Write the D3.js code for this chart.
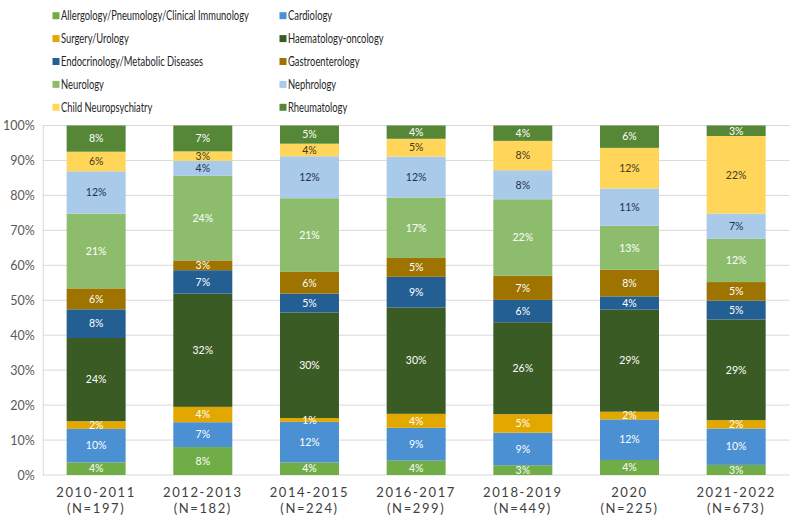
<!DOCTYPE html>
<html>
<head>
<meta charset="utf-8">
<script src="https://cdn.jsdelivr.net/npm/d3@7"></script>
<style>
  body { margin: 0; background: #fff; }
  svg { display: block; font-family: Lato, "Open Sans", sans-serif; }
</style>
</head>
<body>
<div id="viz"></div>
<script>
var width = 794,
    height = 519;

// Periods on the x axis (two lines each)
var periods = ["2010-2011", "2012-2013", "2014-2015", "2016-2017", "2018-2019", "2020", "2021-2022"];
var counts = ["(N=197)", "(N=182)", "(N=224)", "(N=299)", "(N=449)", "(N=225)", "(N=673)"];

// Specialities, bottom to top of the stack
var specialities = ["Allergology/Pneumology/Clinical Immunology", "Cardiology", "Surgery/Urology",
    "Haematology-oncology", "Endocrinology/Metabolic Diseases", "Gastroenterology",
    "Neurology", "Nephrology", "Child Neuropsychiatry", "Rheumatology"];

// Share (%) of each speciality, one array per speciality, in period order
var allergology   = [3.6, 8.0, 3.6, 4.1, 2.8, 4.3, 2.9];
var cardiology    = [9.6, 7.1, 11.6, 9.4, 9.3, 11.6, 10.4];
var surgery       = [2.2, 4.4, 1.1, 4.0, 5.3, 2.2, 2.4];
var haematology   = [23.8, 32.4, 30.2, 30.4, 26.3, 29.2, 28.8];
var endocrinology = [8.2, 6.7, 5.4, 8.8, 6.4, 3.8, 5.4];
var gastro        = [6.0, 2.8, 6.2, 5.4, 6.9, 7.6, 5.3];
var neurology     = [21.4, 24.2, 21.1, 17.3, 21.9, 12.6, 12.4];
var nephrology    = [12.1, 4.3, 12.0, 11.7, 8.3, 10.7, 7.2];
var childNeuro    = [5.6, 2.7, 3.6, 5.1, 8.4, 11.6, 22.2];
var rheumatology  = [7.5, 7.4, 5.2, 3.8, 4.4, 6.4, 3.0];

var series = [allergology, cardiology, surgery, haematology, endocrinology,
    gastro, neurology, nephrology, childNeuro, rheumatology];

var colors = ["#70AD47", "#4A90D2", "#E3A800", "#3B5B25", "#245F94",
    "#9E7300", "#8DBD6C", "#A9CAE8", "#FFD659", "#568737"];
var labelColors = ["#fff", "#fff", "#fff", "#fff", "#fff",
    "#fff", "#fff", "#1F3350", "#3F3A20", "#fff"];

var yTicks = [0, 10, 20, 30, 40, 50, 60, 70, 80, 90, 100];

// build rows for d3.stack
var rows = periods.map(function(p, i) {
    var row = {period: p};
    specialities.forEach(function(s, j) { row[s] = series[j][i]; });
    return row;
});

var margin = {top: 125.5, right: 4.5, bottom: 44, left: 42.8};

var svg = d3.select("div#viz").append("svg")
    .attr("width", width)
    .attr("height", height);

var x = d3.scaleBand()
    .domain(periods)
    .range([margin.left, width - margin.right])
    .paddingInner(0.447)
    .paddingOuter(0.2235);

var y = d3.scaleLinear()
    .domain([0, 100])
    .range([height - margin.bottom, margin.top]);

// gridlines
svg.append("g")
    .selectAll("line")
    .data(yTicks)
    .enter().append("line")
    .attr("x1", margin.left)
    .attr("x2", width - margin.right)
    .attr("y1", function(d) { return y(d); })
    .attr("y2", function(d) { return y(d); })
    .attr("stroke", "#D9D9D9")
    .attr("stroke-width", 1);

// y axis
var yAxis = svg.append("g")
    .attr("transform", "translate(" + margin.left + ",0)")
    .call(d3.axisLeft(y).tickValues(yTicks).tickSize(0).tickPadding(8)
        .tickFormat(function(d) { return d + "%"; }));
yAxis.select(".domain").attr("stroke", "#D9D9D9");
yAxis.selectAll("text")
    .attr("font-size", 12.5)
    .attr("fill", "#595959")
    .style("font-family", "Lato, sans-serif");

var stack = d3.stack().keys(specialities);
var layers = stack(rows);

var layer = svg.append("g")
    .selectAll("g")
    .data(layers)
    .enter().append("g")
    .attr("fill", function(d, i) { return colors[i]; });

layer.selectAll("rect")
    .data(function(d) { return d; })
    .enter().append("rect")
    .attr("x", function(d) { return x(d.data.period); })
    .attr("width", x.bandwidth())
    .attr("y", function(d) { return y(d[1]); })
    .attr("height", function(d) { return y(d[0]) - y(d[1]); });

// value labels
layers.forEach(function(l, i) {
    svg.append("g")
        .selectAll("text")
        .data(l)
        .enter().append("text")
        .attr("x", function(d) { return x(d.data.period) + x.bandwidth() / 2; })
        .attr("y", function(d) { return (y(d[0]) + y(d[1])) / 2; })
        .attr("dy", "0.36em")
        .attr("text-anchor", "middle")
        .attr("font-size", 10.5)
        .attr("fill", labelColors[i])
        .text(function(d) { return Math.round(d[1] - d[0]) + "%"; });
});

// x axis labels
var xl = svg.append("g")
    .selectAll("text")
    .data(periods)
    .enter().append("text")
    .attr("x", function(d) { return x(d) + x.bandwidth() / 2; })
    .attr("y", 497)
    .attr("text-anchor", "middle")
    .attr("font-size", 13)
    .attr("letter-spacing", 1.6)
    .attr("fill", "#404040");
xl.append("tspan").text(function(d) { return d; });
xl.append("tspan")
    .attr("x", function(d) { return x(d) + x.bandwidth() / 2; })
    .attr("dy", 16)
    .text(function(d, i) { return counts[i]; });

// legend, two columns, row by row
var legend = svg.append("g")
    .selectAll("g")
    .data(specialities)
    .enter().append("g")
    .attr("transform", function(d, i) {
        var col = i % 2, row = Math.floor(i / 2);
        return "translate(" + (col ? 279.5 : 52.5) + "," + (15.7 + row * 22.9) + ")";
    });

legend.append("rect")
    .attr("x", 0)
    .attr("y", -3.5)
    .attr("width", 7)
    .attr("height", 7)
    .attr("fill", function(d, i) { return colors[i]; });

// the legend font in the original is narrow, squeeze Lato a bit
legend.append("text")
    .attr("transform", "translate(8.5,0) scale(0.75,1)")
    .attr("dy", "0.35em")
    .attr("font-size", 12.5)
    .attr("fill", "#262626")
    .text(function(d) { return d; });
</script>
</body>
</html>
